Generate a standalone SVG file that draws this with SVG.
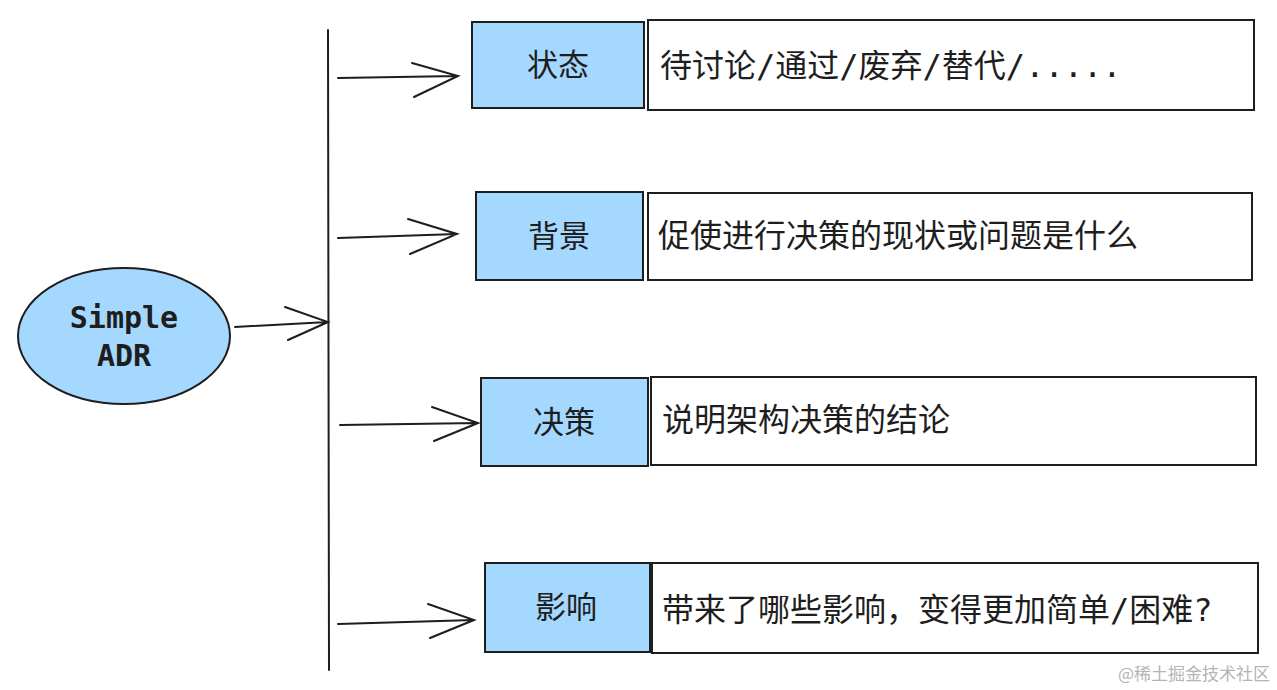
<svg xmlns="http://www.w3.org/2000/svg" width="1277" height="690" viewBox="0 0 1277 690">
<style>
.blue{fill:#a5d8ff;stroke:#1e1e1e;stroke-width:2}
.white{fill:#ffffff;stroke:#1e1e1e;stroke-width:2}
.lbl{font-family:"Noto Sans CJK SC","Noto Sans",sans-serif;font-size:31px;fill:#1e1e1e;text-anchor:middle}
.desc{font-family:"Noto Sans CJK SC","Noto Sans",sans-serif;font-size:32px;fill:#1e1e1e}
.m{font-family:"DejaVu Sans Mono","Liberation Mono",monospace}
.mono{font-family:"DejaVu Sans Mono","Liberation Mono",monospace;font-size:30px;font-weight:bold;fill:#1e1e1e;text-anchor:middle}
.con{fill:none;stroke:#1e1e1e;stroke-width:2;stroke-linecap:round}
</style>
<rect width="1277" height="690" fill="#ffffff"/>
<g id="root">
<ellipse cx="124" cy="336" rx="106" ry="68" class="blue"/>
<text class="mono" x="124" y="328">Simple</text>
<text class="mono" x="124" y="366">ADR</text>
</g>
<g id="connectors">
<path class="con" d="M328 30 L329 670"/>
<path class="con" d="M235 327 L328 322 M285 307 L328 322 L288 340"/>
<path class="con" d="M338 78 L458 76 M412 63 L458 76 L414 97"/>
<path class="con" d="M338 238 L457 234 M408 219 L457 234 L410 254"/>
<path class="con" d="M340 425 L478 423 M432 407 L478 423 L434 441"/>
<path class="con" d="M338 624 L474 620 M428 604 L474 620 L430 638"/>
</g>
<g id="status">
<rect class="blue" x="472" y="22" width="172" height="86"/>
<text class="lbl" x="558" y="76">状态</text>
</g>
<g id="status-desc">
<rect class="white" x="648" y="20" width="606" height="90"/>
<text class="desc" x="660" y="77">待讨论<tspan class="m">/</tspan>通过<tspan class="m">/</tspan>废弃<tspan class="m">/</tspan>替代<tspan class="m">/.....</tspan></text>
</g>
<g id="context">
<rect class="blue" x="476" y="192" width="167" height="88"/>
<text class="lbl" x="559" y="247">背景</text>
</g>
<g id="context-desc">
<rect class="white" x="648" y="193" width="604" height="87"/>
<text class="desc" x="658" y="247">促使进行决策的现状或问题是什么</text>
</g>
<g id="decision">
<rect class="blue" x="481" y="378" width="167" height="88"/>
<text class="lbl" x="564" y="433">决策</text>
</g>
<g id="decision-desc">
<rect class="white" x="651" y="377" width="605" height="88"/>
<text class="desc" x="662" y="431">说明架构决策的结论</text>
</g>
<g id="impact">
<rect class="blue" x="485" y="563" width="165" height="89"/>
<text class="lbl" x="566" y="618">影响</text>
</g>
<g id="impact-desc">
<rect class="white" x="652" y="563" width="606" height="90"/>
<text class="desc" x="662" y="621">带来了哪些影响，变得更加简单<tspan class="m">/</tspan>困难<tspan class="m">?</tspan></text>
</g>
<text x="1270" y="680" text-anchor="end" font-family="Noto Sans CJK SC,sans-serif" font-size="17" fill="#b4b4b4">@稀土掘金技术社区</text>
</svg>
